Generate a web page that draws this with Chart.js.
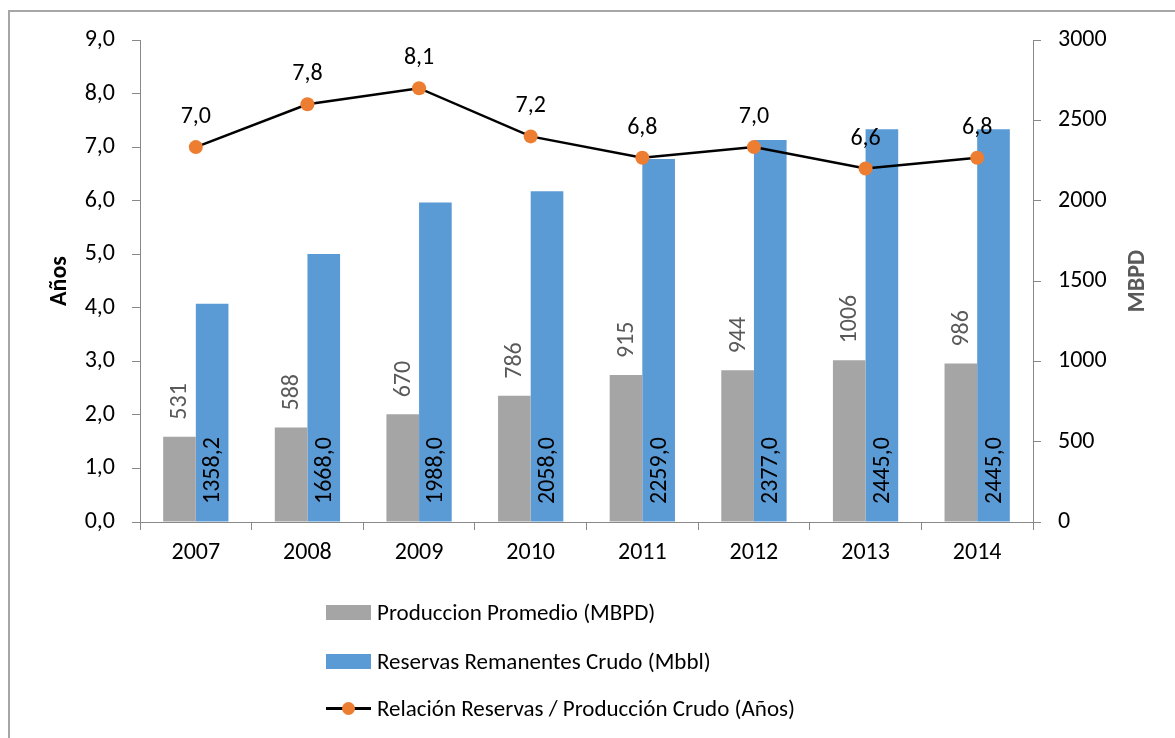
<!DOCTYPE html>
<html>
<head>
<meta charset="utf-8">
<script src="https://cdn.jsdelivr.net/npm/chart.js@4.4.1/dist/chart.umd.min.js"></script>
<style>
  html, body { margin: 0; padding: 0; background: #fff; }
  #wrap { position: relative; width: 1175px; height: 738px; overflow: hidden; font-family: Carlito, Lato, sans-serif; }
  #frame { position: absolute; left: 8px; top: 10px; width: 1200px; height: 800px; border: 2px solid #a6a6a6; box-sizing: border-box; }
  canvas { position: absolute; left: 0; top: 0; }
  .leg { position: absolute; left: 326px; height: 30px; display: flex; align-items: center; font-size: 23px; color: #000; white-space: nowrap; }
  .sw { width: 45px; height: 15px; margin-right: 6px; }
  .ln { position: relative; width: 45px; height: 15px; margin-right: 6px; }
  .ln::before { content: ""; position: absolute; left: 0; right: 0; top: 6px; height: 3px; background: #000; }
  .ln::after { content: ""; position: absolute; left: 16px; top: 1px; width: 13px; height: 13px; border-radius: 50%; background: #ed7d31; }
</style>
</head>
<body>
<div id="wrap">
  <div id="frame"></div>
  <canvas id="c" width="1175" height="738"></canvas>
  <div id="legend"></div>
</div>
<script>
const categories = ['2007', '2008', '2009', '2010', '2011', '2012', '2013', '2014'];
const produccion = [531, 588, 670, 786, 915, 944, 1006, 986];
const reservas = [1358.2, 1668.0, 1988.0, 2058.0, 2259.0, 2377.0, 2445.0, 2445.0];
const relacion = [7.0, 7.8, 8.1, 7.2, 6.8, 7.0, 6.6, 6.8];
const seriesNames = ['Produccion Promedio (MBPD)', 'Reservas Remanentes Crudo (Mbbl)', 'Relación Reservas / Producción Crudo (Años)'];
const leftTicksMax = 9;
const rightTicksMax = 3000;

const FONT = 'Carlito, Lato, sans-serif';
const FS = 24;
const comma = (v, d) => v.toFixed(d).replace('.', ',');

const labelPlugin = {
  id: 'labels',
  afterDatasetsDraw(chart) {
    const ctx = chart.ctx;
    ctx.save();
    ctx.font = FS + 'px ' + FONT;
    // gray bars: rotated labels above bar
    const m0 = chart.getDatasetMeta(1);
    m0.data.forEach((el, i) => {
      ctx.save();
      ctx.translate(el.x + 1, el.y - 17);
      ctx.rotate(-Math.PI / 2);
      ctx.fillStyle = '#595959';
      ctx.textAlign = 'left';
      ctx.textBaseline = 'middle';
      ctx.fillText(String(produccion[i]), 0, 0);
      ctx.restore();
    });
    // blue bars: rotated labels inside base
    const m1 = chart.getDatasetMeta(2);
    const base = chart.scales.y1.getPixelForValue(0);
    m1.data.forEach((el, i) => {
      ctx.save();
      ctx.translate(el.x + 1, base - 18);
      ctx.rotate(-Math.PI / 2);
      ctx.fillStyle = '#000';
      ctx.textAlign = 'left';
      ctx.textBaseline = 'middle';
      ctx.fillText(comma(reservas[i], 1), 0, 0);
      ctx.restore();
    });
    // line labels above points
    const m2 = chart.getDatasetMeta(0);
    m2.data.forEach((el, i) => {
      ctx.fillStyle = '#000';
      ctx.textAlign = 'center';
      ctx.textBaseline = 'alphabetic';
      ctx.fillText(comma(relacion[i], 1), el.x, el.y - 24);
    });
    // right axis title, reading bottom-to-top
    const a = chart.chartArea;
    ctx.save();
    ctx.translate(1138, (a.top + a.bottom) / 2);
    ctx.rotate(-Math.PI / 2);
    ctx.font = 'bold ' + FS + 'px ' + FONT;
    ctx.fillStyle = '#595959';
    ctx.textAlign = 'center';
    ctx.textBaseline = 'middle';
    ctx.fillText('MBPD', 0, 0);
    ctx.restore();
    ctx.restore();
  }
};

const axisColor = '#898989';

new Chart(document.getElementById('c'), {
  data: {
    labels: categories,
    datasets: [
      {
        type: 'line', label: seriesNames[2], data: relacion, yAxisID: 'y',
        borderColor: '#000', borderWidth: 2.5, pointRadius: 7, pointHoverRadius: 7,
        pointBackgroundColor: '#ed7d31', pointBorderColor: '#ed7d31', pointBorderWidth: 0,
        tension: 0, order: 0
      },
      {
        type: 'bar', label: seriesNames[0], data: produccion, yAxisID: 'y1',
        backgroundColor: '#a5a5a5', categoryPercentage: 0.585, barPercentage: 1.0, order: 1
      },
      {
        type: 'bar', label: seriesNames[1], data: reservas, yAxisID: 'y1',
        backgroundColor: '#5b9bd5', categoryPercentage: 0.585, barPercentage: 1.0, order: 1
      }
    ]
  },
  options: {
    responsive: false,
    animation: false,
    layout: { padding: { left: 42, right: 20, top: 40, bottom: 0 } },
    plugins: { legend: { display: false }, tooltip: { enabled: false } },
    scales: {
      x: {
        offset: true,
        grid: { display: true, offset: true, drawOnChartArea: false, drawTicks: true, tickLength: 8, color: axisColor },
        border: { display: true, color: axisColor, width: 1 },
        ticks: { color: '#000', font: { family: FONT, size: FS }, padding: 9, maxRotation: 0 },
        afterFit(s) { s.height = 216; }
      },
      y: {
        position: 'left', min: 0, max: leftTicksMax,
        ticks: { stepSize: 1, color: '#000', font: { family: FONT, size: FS }, padding: 17, callback: v => comma(v, 1) },
        grid: { drawOnChartArea: false, drawTicks: true, tickLength: 8, color: axisColor },
        border: { display: true, color: axisColor, width: 1 },
        title: { display: true, text: 'Años', color: '#000', font: { family: FONT, size: FS, weight: 'bold' }, padding: 4 },
        afterFit(s) { s.width = 98; }
      },
      y1: {
        position: 'right', min: 0, max: rightTicksMax,
        ticks: { stepSize: 500, color: '#000', font: { family: FONT, size: FS }, padding: 17, callback: v => String(v) },
        grid: { drawOnChartArea: false, drawTicks: true, tickLength: 8, color: axisColor },
        border: { display: true, color: axisColor, width: 1 },
        title: { display: false },
        afterFit(s) { s.width = 122; }
      }
    }
  },
  plugins: [labelPlugin]
});

// legend (HTML, real text)
const legendEl = document.getElementById('legend');
const legendRows = [
  { name: seriesNames[0], kind: 'box', color: '#a5a5a5', cy: 612 },
  { name: seriesNames[1], kind: 'box', color: '#5b9bd5', cy: 661 },
  { name: seriesNames[2], kind: 'line', cy: 708 }
];
legendRows.forEach(r => {
  const d = document.createElement('div');
  d.className = 'leg';
  d.style.top = (r.cy - 15) + 'px';
  const s = document.createElement('span');
  if (r.kind === 'box') { s.className = 'sw'; s.style.background = r.color; }
  else { s.className = 'ln'; }
  d.appendChild(s);
  const t = document.createElement('span');
  t.textContent = r.name;
  d.appendChild(t);
  legendEl.appendChild(d);
});
</script>
</body>
</html>
